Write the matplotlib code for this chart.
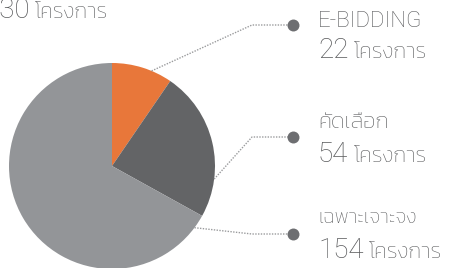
import matplotlib
matplotlib.use("Agg")
import matplotlib.pyplot as plt
import numpy as np

categories = ["E-BIDDING", "คัดเลือก", "เฉพาะเจาะจง"]
values = [22, 54, 154]
unit = "โครงการ"
colors = ["#E8773A", "#636466", "#939598"]

LAT = ["Roboto", "Kanit", "DejaVu Sans"]
THA = ["Kanit", "DejaVu Sans"]
plt.rcParams["font.family"] = LAT

W, H = 452, 268
fig = plt.figure(figsize=(W / 100, H / 100), dpi=100)
ax = fig.add_axes([0, 0, 1, 1])

# pie geometry (pixels from top-left)
cx, cy_px, r = 112, 166, 103
cy = H - cy_px
ax.pie(values, colors=colors, startangle=90, counterclock=False,
       center=(cx, cy), radius=r, wedgeprops=dict(linewidth=0))
ax.set_xlim(0, W)
ax.set_ylim(0, H)
ax.set_aspect("equal")
ax.axis("off")

txt = "#58595B"
renderer = fig.canvas.get_renderer()


def num_unit(x, base_px, number):
    t = ax.text(x, H - base_px, str(number), fontsize=20, color=txt,
                ha="left", va="baseline", family=LAT, fontweight="light")
    bb = t.get_window_extent(renderer)
    xe = ax.transData.inverted().transform((bb.x1, 0))[0]
    ax.text(xe + 5, H - base_px, unit, fontsize=15.5, color=txt,
            ha="left", va="baseline", family=THA, fontweight="light")


num_unit(-16, 18, sum(values))

dot_x, bend_x, label_x = 293, 252, 318
dot_y = [25, 137, 234]
bend_y = [25, 137, 234]
edge_deg = [22.6, 97.3, 126.8]
cat_base = [27, 128, 223]
val_base = [58, 162, 258]
cat_size = [16, 16, 14.5]
for i, (cat, v) in enumerate(zip(categories, values)):
    a = np.deg2rad(90 - edge_deg[i])
    sx, sy = cx + r * np.cos(a), cy + r * np.sin(a)
    ax.plot([sx, bend_x, dot_x], [sy, H - bend_y[i], H - dot_y[i]],
            color="#9A9B9D", lw=1.0, linestyle=(0, (1, 1)))
    ax.plot([dot_x], [H - dot_y[i]], "o", color="#6D6E71", ms=8.6,
            markeredgewidth=0)
    ax.text(label_x, H - cat_base[i], cat, fontsize=cat_size[i], color=txt,
            ha="left", va="baseline", fontweight="light",
            family=LAT if i == 0 else THA)
    num_unit(label_x, val_base[i], v)

fig.savefig("out.png", dpi=100)
